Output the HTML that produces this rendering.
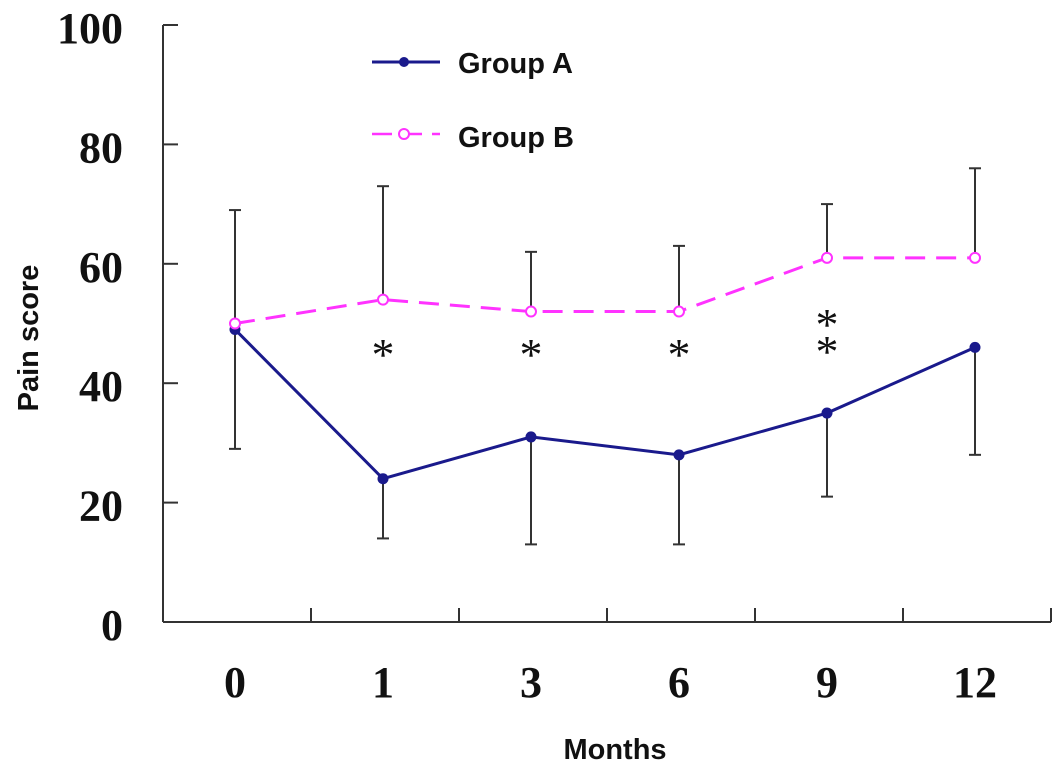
<!DOCTYPE html>
<html><head><meta charset="utf-8"><style>
html,body{margin:0;padding:0;background:#fff;}
svg{display:block;}
</style></head><body>
<svg id="chart" width="1063" height="775" xmlns="http://www.w3.org/2000/svg">
<g id="axes"></g>
<g id="series"></g>
<g id="legend">
  <line x1="372" y1="62" x2="440" y2="62" stroke="#1a1a8c" stroke-width="3"/>
  <circle cx="404" cy="62" r="5" fill="#1a1a8c"/>
  <text x="458" y="73" font-family="Liberation Sans, sans-serif" font-weight="bold" font-size="29" fill="#111">Group A</text>
  <line x1="372" y1="134" x2="440" y2="134" stroke="#ff33ff" stroke-width="2.5" stroke-dasharray="20,10"/>
  <circle cx="404" cy="134" r="5" fill="#fff" stroke="#ff33ff" stroke-width="2"/>
  <text x="458" y="147" font-family="Liberation Sans, sans-serif" font-weight="bold" font-size="29" fill="#111">Group B</text>
</g>
<text x="615" y="759" text-anchor="middle" font-family="Liberation Sans, sans-serif" font-weight="bold" font-size="29" fill="#111">Months</text>
<text transform="translate(38,338) rotate(-90)" text-anchor="middle" font-family="Liberation Sans, sans-serif" font-weight="bold" font-size="29" fill="#111">Pain score</text>
</svg>
<script>
const categories = ["0","1","3","6","9","12"];
const groupA = [49, 24, 31, 28, 35, 46];
const groupALow = [29, 14, 13, 13, 21, 28];
const groupB = [50, 54, 52, 52, 61, 61];
const groupBHigh = [69, 73, 62, 63, 70, 76];
const yTicks = [0, 20, 40, 60, 80, 100];
const stars = [0, 1, 1, 1, 2, 0];

const NS = "http://www.w3.org/2000/svg";
const x0 = 163, band = 148, yBase = 622, yTop = 25;
function xs(i){ return x0 - 2 + band*(i+0.5); }
function ys(v){ return yBase - (v/100)*(yBase-yTop); }
function mk(tag, attrs, parent){
  const e = document.createElementNS(NS, tag);
  for (const k in attrs) e.setAttribute(k, attrs[k]);
  parent.appendChild(e); return e;
}
const axes = document.getElementById('axes');
const series = document.getElementById('series');
const xEnd = x0 + band*categories.length;

let yl = mk('line', {x1:x0, y1:yTop, x2:x0, y2:yBase, stroke:'#333', 'stroke-width':2}, axes);


let xl = mk('line', {x1:x0, y1:yBase, x2:xEnd, y2:yBase, stroke:'#333', 'stroke-width':2}, axes);



yTicks.forEach(v => {
  const y = ys(v);
  let t = mk('line', {x1:x0, y1:y, x2:x0+15, y2:y, stroke:'#333', 'stroke-width':2}, axes);
  
  
  let l = mk('text', {x:123, y:y+18, 'text-anchor':'end', 'font-family':'Liberation Serif, serif', 'font-weight':'bold', 'font-size':44, fill:'#111'}, axes);
  l.textContent = v;
  
  
});
categories.forEach((c, i) => {
  const xt = x0 + band*(i+1);
  let t = mk('line', {x1:xt, y1:yBase, x2:xt, y2:yBase-14, stroke:'#333', 'stroke-width':2}, axes);
  
  
  let l = mk('text', {x:xs(i), y:697, 'text-anchor':'middle', 'font-family':'Liberation Serif, serif', 'font-weight':'bold', 'font-size':44, fill:'#111'}, axes);
  l.textContent = c;
  
  
});

categories.forEach((c, i) => {
  let e1 = mk('line', {x1:xs(i), y1:ys(groupA[i]), x2:xs(i), y2:ys(groupALow[i]), stroke:'#333', 'stroke-width':2}, series);
  
  
  let c1 = mk('line', {x1:xs(i)-6, y1:ys(groupALow[i]), x2:xs(i)+6, y2:ys(groupALow[i]), stroke:'#333', 'stroke-width':2}, series);
  
  
  let e2 = mk('line', {x1:xs(i), y1:ys(groupB[i]), x2:xs(i), y2:ys(groupBHigh[i]), stroke:'#333', 'stroke-width':2}, series);
  
  
  let c2 = mk('line', {x1:xs(i)-6, y1:ys(groupBHigh[i]), x2:xs(i)+6, y2:ys(groupBHigh[i]), stroke:'#333', 'stroke-width':2}, series);
  
  
});

let pa = mk('polyline', {points: groupA.map((v,i)=>xs(i)+','+ys(v)).join(' '), fill:'none', stroke:'#1a1a8c', 'stroke-width':3}, series);


let pb = mk('polyline', {points: groupB.map((v,i)=>xs(i)+','+ys(v)).join(' '), fill:'none', stroke:'#ff33ff', 'stroke-width':3, 'stroke-dasharray':'20,11'}, series);



groupA.forEach((v,i) => {
  let p = mk('circle', {cx:xs(i), cy:ys(v), r:5.5, fill:'#1a1a8c'}, series);
  
  
});
groupB.forEach((v,i) => {
  let p = mk('circle', {cx:xs(i), cy:ys(v), r:5, fill:'#fff', stroke:'#ff33ff', 'stroke-width':2}, series);
  
  
});

stars.forEach((n,i) => {
  for (let k=0; k<n; k++){
    const y = n===2 ? (k===0 ? 340 : 367) : 370;
    let s = mk('text', {x:xs(i), y:y, 'text-anchor':'middle', 'font-family':'Liberation Serif, serif', 'font-size':46, fill:'#111'}, series);
    s.textContent = '*';
    
    
  }
});
</script>
</body></html>
